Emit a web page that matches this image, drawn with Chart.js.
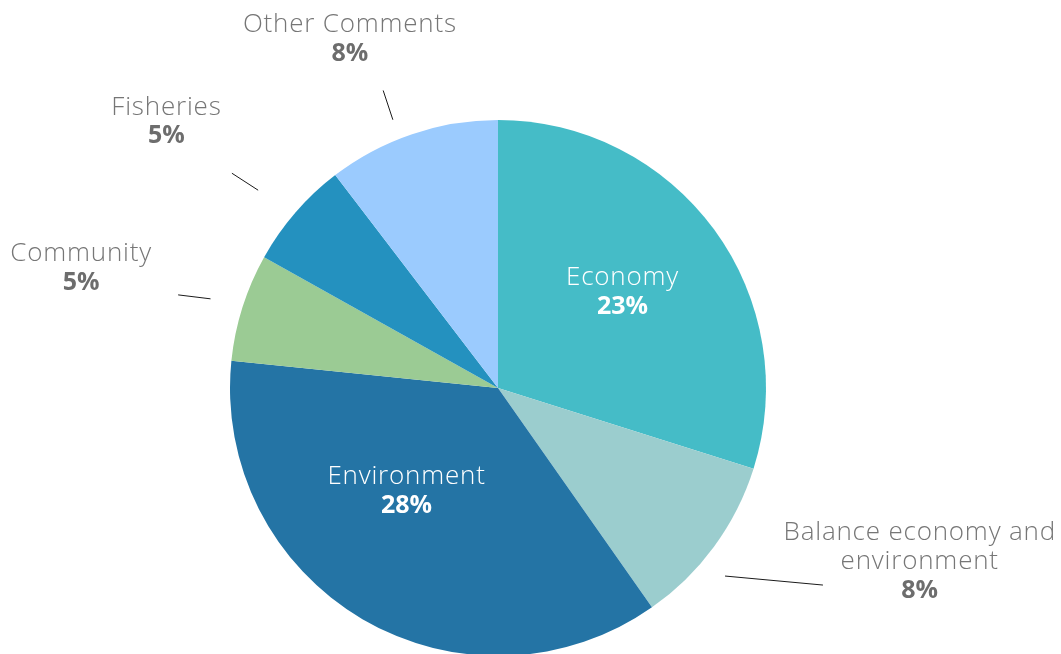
<!DOCTYPE html>
<html>
<head>
<meta charset="utf-8">
<script src="https://cdn.jsdelivr.net/npm/chart.js@4/dist/chart.umd.min.js"></script>
<style>
    html, body { margin: 0; padding: 0; background: #fff; overflow: hidden; }
    .chart-box { position: relative; width: 1061px; height: 670px; }
</style>
</head>
<body>
<div class="chart-box"><canvas id="commentsChart"></canvas></div>
<script>
// Share of comments by theme
const themes = ['Economy', 'Balance economy and environment', 'Environment', 'Community', 'Fisheries', 'Other Comments'];
const themeLines = [['Economy'], ['Balance economy and', 'environment'], ['Environment'], ['Community'], ['Fisheries'], ['Other Comments']];
const shares = [23, 8, 28, 5, 5, 8];
const sliceColors = ['#45BCC7', '#9BCDCE', '#2474A5', '#9BCB94', '#2491BF', '#9BCBFE'];

// Where each label sits relative to its slice: turn (deg off the mid angle), dist (x radius)
const labelPlacement = [
    { inside: true, turn: -1.8, dist: 0.59 },
    { turn: -14, dist: 1.70, leader: [[3.4, 1.10], [-5, 1.418]] },
    { inside: true, turn: 11.6, dist: 0.51 },
    { turn: -1.3, dist: 1.62, leader: [[-0.3, 1.123], [-1.3, 1.243]] },
    { turn: -2, dist: 1.59, leader: [[-1.4, 1.16], [-2, 1.276]] },
    { turn: -4.2, dist: 1.42, leader: [[-2.7, 1.075], [-2.4, 1.19]] }
];

const FONT = '"Open Sans", "DejaVu Sans", sans-serif';

const sliceLabels = {
    id: 'sliceLabels',
    afterDatasetsDraw(chart) {
        const ctx = chart.ctx;
        const arcs = chart.getDatasetMeta(0).data;
        const deg = Math.PI / 180;

        const polar = (arc, turn, dist) => {
            const a = (arc.startAngle + arc.endAngle) / 2 + turn * deg;
            return [arc.x + Math.cos(a) * arc.outerRadius * dist,
                    arc.y + Math.sin(a) * arc.outerRadius * dist];
        };

        ctx.save();
        arcs.forEach((arc, i) => {
            const place = labelPlacement[i];

            if (place.leader) {
                const p1 = polar(arc, place.leader[0][0], place.leader[0][1]);
                const p2 = polar(arc, place.leader[1][0], place.leader[1][1]);
                ctx.strokeStyle = '#1a1a1a';
                ctx.lineWidth = 1;
                ctx.beginPath();
                ctx.moveTo(p1[0], p1[1]);
                ctx.lineTo(p2[0], p2[1]);
                ctx.stroke();
            }

            const [cx, cy] = polar(arc, place.turn, place.dist);
            const lines = themeLines[i].map(t => ({ text: t, bold: false }));
            lines.push({ text: shares[i] + '%', bold: true });

            const lh = 29;
            ctx.textAlign = 'center';
            ctx.textBaseline = 'middle';
            lines.forEach((ln, k) => {
                const y = cy + 1.5 + (k - (lines.length - 1) / 2) * lh;
                if (ln.bold) {
                    ctx.font = '700 25px ' + FONT;
                    ctx.letterSpacing = '0px';
                } else {
                    ctx.font = '300 26px ' + FONT;
                    ctx.letterSpacing = '0.8px';
                }
                if (place.inside) {
                    ctx.fillStyle = '#ffffff';
                } else {
                    ctx.fillStyle = ln.bold ? '#6d6d6d' : '#767676';
                }
                ctx.fillText(ln.text, cx, y);
            });
        });
        ctx.restore();
    }
};

new Chart(document.getElementById('commentsChart'), {
    type: 'pie',
    data: {
        labels: themes,
        datasets: [{
            data: shares,
            backgroundColor: sliceColors,
            borderWidth: 0
        }]
    },
    options: {
        responsive: true,
        maintainAspectRatio: false,
        animation: false,
        layout: {
            padding: { top: 120, bottom: 14, left: 0, right: 65 }
        },
        plugins: {
            legend: { display: false },
            tooltip: { enabled: false }
        }
    },
    plugins: [sliceLabels]
});
</script>
</body>
</html>
